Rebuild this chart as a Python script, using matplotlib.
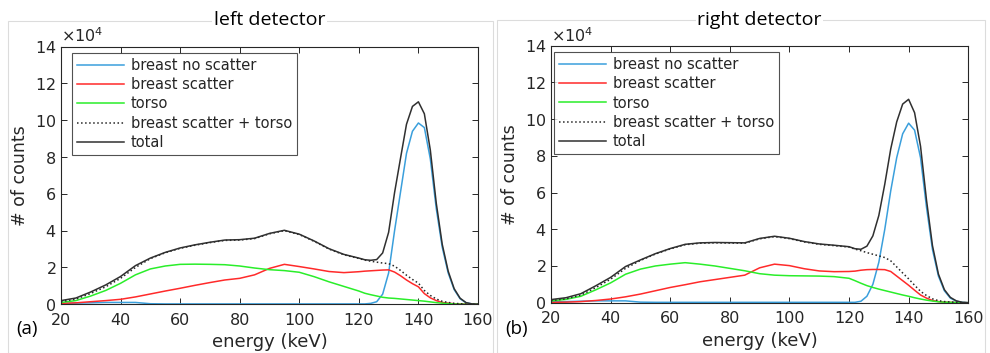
import numpy as np
import matplotlib
matplotlib.use("Agg")
import matplotlib.pyplot as plt
from matplotlib.patches import Rectangle
from matplotlib.ticker import ScalarFormatter

# energy grid (keV), shared by both detectors
energy = [20, 25, 30, 35, 40, 45, 50, 55, 60, 65, 70, 75, 80, 85, 90, 95, 100, 105, 110, 115, 120,
          122, 124, 126, 128, 130, 132, 134, 136, 138, 140, 142, 144, 146, 148, 150, 152, 154, 156, 158, 160]

# counts in units of 1e4
left_noscatter = [0.05, 0.06, 0.08, 0.1, 0.1, 0.1, 0.03, 0.02, 0.02, 0.02, 0.02, 0.02, 0.02, 0.02, 0.02, 0.02, 0.02, 0.02, 0.02, 0.02, 0.02,
                  0.02, 0.05, 0.14, 0.55, 1.7, 4.0, 6.1, 8.2, 9.4, 9.85, 9.6, 7.9, 5.2, 3.1, 1.7, 0.8, 0.3, 0.08, 0.02, 0.0]
left_scatter = [0.05, 0.08, 0.14, 0.2, 0.27, 0.4, 0.56, 0.72, 0.87, 1.03, 1.18, 1.32, 1.41, 1.6, 1.95, 2.17, 2.05, 1.92, 1.78, 1.72, 1.77,
                1.8, 1.82, 1.84, 1.86, 1.87, 1.75, 1.55, 1.32, 1.12, 0.95, 0.58, 0.35, 0.2, 0.1, 0.06, 0.03, 0.02, 0.01, 0.0, 0.0]
left_torso = [0.1, 0.2, 0.45, 0.75, 1.14, 1.6, 1.92, 2.08, 2.17, 2.18, 2.17, 2.15, 2.08, 1.97, 1.88, 1.83, 1.74, 1.5, 1.22, 0.97, 0.72,
              0.6, 0.52, 0.45, 0.38, 0.34, 0.32, 0.29, 0.26, 0.23, 0.2, 0.17, 0.13, 0.09, 0.06, 0.04, 0.02, 0.01, 0.0, 0.0, 0.0]

right_noscatter = [0.05, 0.06, 0.08, 0.1, 0.1, 0.1, 0.03, 0.02, 0.02, 0.02, 0.02, 0.02, 0.02, 0.02, 0.02, 0.02, 0.02, 0.02, 0.02, 0.02, 0.02,
                   0.02, 0.08, 0.35, 1.0, 2.2, 4.0, 6.1, 7.9, 9.2, 9.78, 9.4, 7.9, 5.2, 2.9, 1.45, 0.65, 0.25, 0.08, 0.02, 0.0]
right_scatter = [0.02, 0.03, 0.06, 0.12, 0.2, 0.32, 0.47, 0.65, 0.83, 0.98, 1.14, 1.26, 1.38, 1.5, 1.9, 2.1, 2.02, 1.85, 1.73, 1.69, 1.7,
                 1.72, 1.77, 1.8, 1.81, 1.81, 1.8, 1.7, 1.45, 1.2, 0.95, 0.68, 0.42, 0.25, 0.12, 0.06, 0.03, 0.02, 0.01, 0.0, 0.0]
right_torso = [0.1, 0.18, 0.35, 0.7, 1.08, 1.55, 1.83, 2.0, 2.1, 2.18, 2.1, 2.0, 1.87, 1.74, 1.58, 1.5, 1.47, 1.46, 1.45, 1.42, 1.33,
               1.2, 1.06, 0.93, 0.83, 0.74, 0.66, 0.58, 0.5, 0.42, 0.35, 0.27, 0.2, 0.14, 0.09, 0.05, 0.03, 0.02, 0.01, 0.0, 0.0]

panels = [
    ("left detector", "(a)", left_noscatter, left_scatter, left_torso,
     [0.0616, 0.138, 0.4212, 0.730], (11 / 417, 1 - 6 / 258)),
    ("right detector", "(b)", right_noscatter, right_scatter, right_torso,
     [0.5566, 0.1425, 0.4214, 0.728], (3 / 417, 1 - 6 / 257)),
]

c_blue = "#3a9fdc"
c_red = "#ff2a2a"
c_green = "#2aee2a"
c_dark = "#262626"

fig = plt.figure(figsize=(9.9, 3.53), dpi=100)

# light frames around each panel
fig.patches.append(Rectangle((8 / 990, 0), 485 / 990, 332 / 353, transform=fig.transFigure,
                             fill=False, edgecolor="#dcdcdc", linewidth=0.8))
fig.patches.append(Rectangle((497 / 990, 0), 488 / 990, 333 / 353, transform=fig.transFigure,
                             fill=False, edgecolor="#dcdcdc", linewidth=0.8))

for title, tag, noscat, scat, torso, rect, leg_anchor in panels:
    ax = fig.add_axes(rect)
    e = np.array(energy)
    b = np.array(noscat) * 1e4
    s = np.array(scat) * 1e4
    t = np.array(torso) * 1e4
    ax.plot(e, b, color=c_blue, lw=1.1, label="breast no scatter")
    ax.plot(e, s, color=c_red, lw=1.1, label="breast scatter")
    ax.plot(e, t, color=c_green, lw=1.1, label="torso")
    ax.plot(e, s + t, color=c_dark, lw=1.1, ls=":", label="breast scatter + torso")
    ax.plot(e, b + s + t, color="#303030", lw=1.1, label="total")

    ax.set_xlim(20, 160)
    ax.set_ylim(0, 14e4)
    ax.set_xticks(range(20, 161, 20))
    ax.set_yticks(np.arange(0, 14.1e4, 2e4))
    fmt = ScalarFormatter(useMathText=True)
    fmt.set_powerlimits((4, 4))
    ax.yaxis.set_major_formatter(fmt)
    ax.yaxis.get_offset_text().set_fontsize(11.5)
    ax.yaxis.get_offset_text().set_color("#555555")
    ax.tick_params(direction="in", top=True, right=True, labelsize=11.5,
                   colors=c_dark, length=4, width=0.7)
    ax.tick_params(axis="x", pad=6)
    for sp in ax.spines.values():
        sp.set_color(c_dark)
        sp.set_linewidth(0.8)

    ax.set_xlabel("energy (keV)", fontsize=13, color=c_dark, labelpad=4)
    ax.set_ylabel("# of counts", fontsize=12.5, color=c_dark, labelpad=4)

    leg = ax.legend(loc="upper left", bbox_to_anchor=leg_anchor, fontsize=10.5,
                    frameon=True, fancybox=False, handlelength=3.2, handletextpad=0.5,
                    labelspacing=0.3, borderpad=0.35, borderaxespad=0)
    leg.get_frame().set_edgecolor(c_dark)
    leg.get_frame().set_linewidth(0.8)
    for txt in leg.get_texts():
        txt.set_color(c_dark)

    pos = ax.get_position()
    cx = (pos.x0 + pos.x1) / 2
    fig.text(cx, 1 - 20 / 353, title, ha="center", va="center", fontsize=14,
             family="Open Sans", color="black",
             bbox=dict(facecolor="white", edgecolor="none", pad=1))
    fig.text(pos.x0 - 34 / 990, 1 - 329 / 353, tag, ha="center", va="center",
             fontsize=13.5, family="Open Sans", color="black")

fig.savefig("out.png", dpi=100)
